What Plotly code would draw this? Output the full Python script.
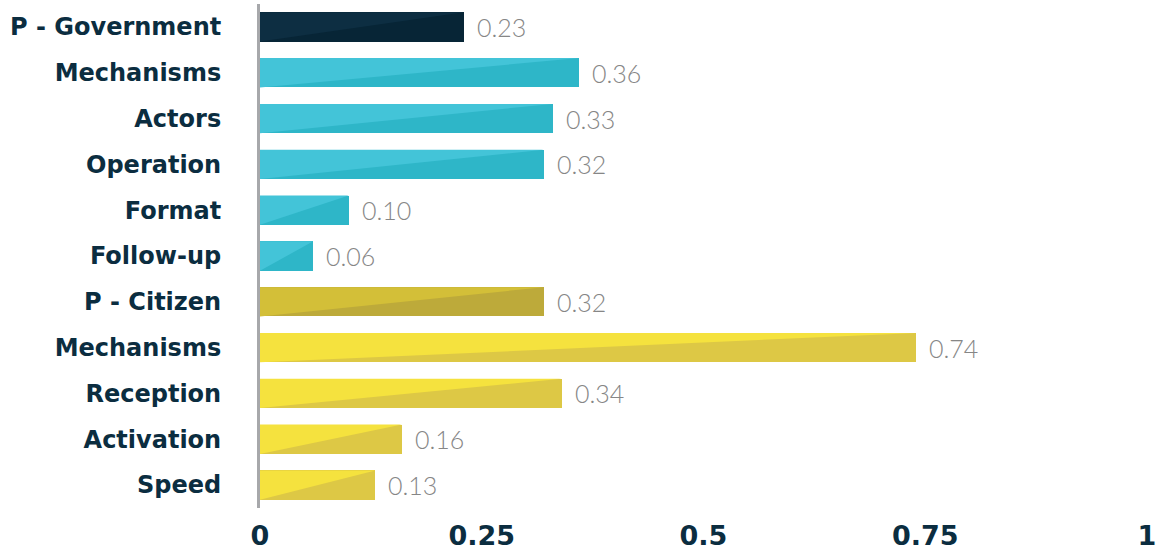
import plotly.graph_objects as go

# Indicator scores, listed top to bottom
labels = ["P - Government", "Mechanisms", "Actors", "Operation", "Format", "Follow-up",
          "P - Citizen", "Mechanisms", "Reception", "Activation", "Speed"]
values = [0.23, 0.36, 0.33, 0.32, 0.10, 0.06, 0.32, 0.74, 0.34, 0.16, 0.13]
groups = ["gov_total", "gov", "gov", "gov", "gov", "gov",
          "cit_total", "cit", "cit", "cit", "cit"]

x_ticks = [0, 0.25, 0.5, 0.75, 1]
x_tick_text = ["0", "0.25", "0.5", "0.75", "1"]

# (lighter upper triangle, darker lower triangle) per group
palette = {
    "gov_total": ("#0d2e42", "#072536"),
    "gov": ("#43c4d8", "#2eb6c8"),
    "cit_total": ("#d3bf38", "#bdaa3a"),
    "cit": ("#f5e23e", "#ddc845"),
}

n = len(labels)
ypos = [n - 1 - i for i in range(n)]
half = 0.32

fig = go.Figure()

# base bars in the darker shade
fig.add_trace(go.Bar(
    x=values, y=ypos, orientation="h", width=2 * half,
    marker=dict(color=[palette[g][1] for g in groups], line=dict(width=0)),
    hoverinfo="skip", showlegend=False,
))

# lighter triangle over each bar: bottom-left -> top-left -> top-right
for v, y, g in zip(values, ypos, groups):
    fig.add_trace(go.Scatter(
        x=[0, 0, v, 0], y=[y - half, y + half, y + half, y - half],
        mode="lines", fill="toself", fillcolor=palette[g][0],
        line=dict(width=0), hoverinfo="skip", showlegend=False,
    ))

# value labels beside the bars
for v, y in zip(values, ypos):
    fig.add_annotation(
        x=v, y=y, text=f"{v:.2f}", showarrow=False,
        xanchor="left", xshift=11, yshift=0,
        font=dict(family="Lato", size=25, color="#868686", weight=300),
    )

fig.update_layout(
    width=1156, height=550,
    margin=dict(l=260, r=9, t=4, b=42, autoexpand=False),
    paper_bgcolor="white", plot_bgcolor="white",
    bargap=0,
    xaxis=dict(
        range=[0, 1], tickvals=x_ticks, ticktext=x_tick_text,
        showgrid=False, zeroline=False, showline=False, ticks="",
        ticklabelstandoff=9, automargin=False, ticklabeloverflow="allow",
        tickfont=dict(family="DejaVu Sans", size=27, color="#0b2d40", weight=700),
        fixedrange=True,
    ),
    yaxis=dict(
        range=[-0.5, n - 0.5], tickvals=ypos, ticktext=labels,
        showgrid=False, zeroline=False, ticks="",
        showline=True, linecolor="#a7a8ab", linewidth=3,
        ticklabelstandoff=31, automargin=False,
        tickfont=dict(family="DejaVu Sans", size=24, color="#0b2d40", weight=700),
        fixedrange=True,
    ),
)

fig.write_html("out.html")
